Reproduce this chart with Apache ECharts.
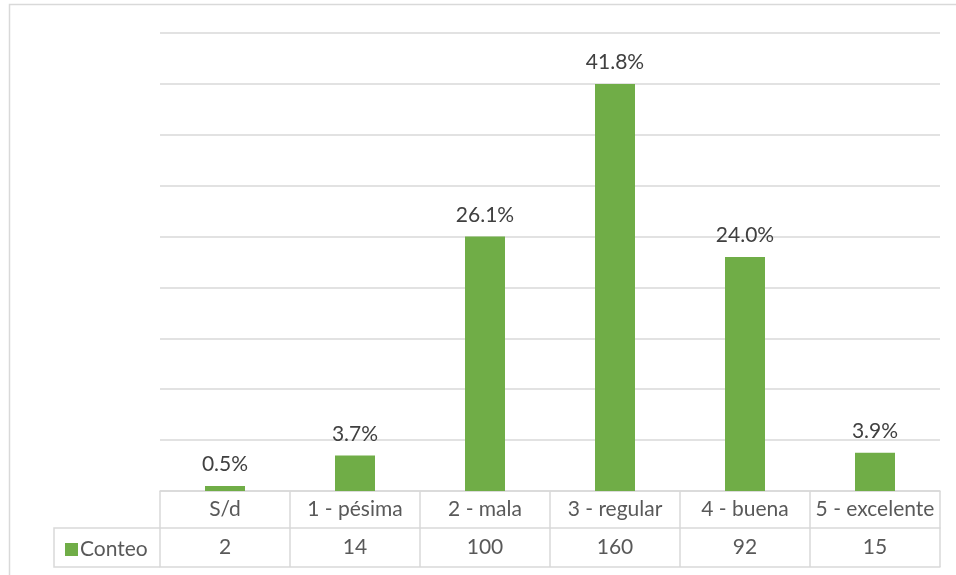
<!DOCTYPE html>
<html><head><meta charset="utf-8">
<script src="https://cdn.jsdelivr.net/npm/echarts@6/dist/echarts.min.js"></script>
<style>html,body{margin:0;padding:0;background:#fff}#c{width:956px;height:575px}</style>
</head><body><div id="c"></div>
<script>
var categories = ['S/d', '1 - pésima', '2 - mala', '3 - regular', '4 - buena', '5 - excelente'];
var counts = [2, 14, 100, 160, 92, 15];
var seriesName = 'Conteo';

var total = counts.reduce(function(a,b){return a+b;},0);
var FONT = 'Lato, "Open Sans", sans-serif';
var TXT = '#595959';
var LINE = '#d9d9d9';
var FS = 21;
var chart = echarts.init(document.getElementById('c'), null, {renderer:'canvas'});
chart.setOption({
  animation:false,
  textStyle:{fontFamily:FONT},
  grid:{left:160, right:16, top:33, bottom:84},
  legend:{
    data:[seriesName], left:60, top:534, icon:'rect', itemWidth:13, itemHeight:13, itemGap:0,
    textStyle:{fontFamily:FONT, fontSize:FS, color:TXT, padding:[0,0,0,-3]}
  },
  xAxis:[
    {type:'category', data:categories, position:'bottom',
     axisLine:{show:true, lineStyle:{color:LINE, width:1.5}},
     axisTick:{show:true, length:76, lineStyle:{color:LINE, width:1.5}},
     axisLabel:{fontFamily:FONT, fontSize:FS, color:TXT, margin:8, interval:0}},
    {type:'category', data:categories, position:'bottom', offset:37,
     axisLine:{show:true, lineStyle:{color:LINE, width:1.5}},
     axisTick:{show:false},
     axisLabel:{fontFamily:FONT, fontSize:FS, color:TXT, margin:9, interval:0,
       formatter:function(v, i){ return String(counts[i]); }}},
    {type:'category', data:categories, position:'bottom', offset:76,
     axisLine:{show:true, lineStyle:{color:LINE, width:1.5}},
     axisTick:{show:false}, axisLabel:{show:false}}
  ],
  yAxis:{type:'value', min:0, max:180, interval:20,
    axisLabel:{show:false}, axisLine:{show:false}, axisTick:{show:false},
    splitLine:{lineStyle:{color:LINE, width:1.5}}},
  series:[{
    name:seriesName, type:'bar', data:counts, barWidth:40,
    itemStyle:{color:'#70ad47'},
    label:{show:true, position:'top', distance:11, fontFamily:FONT, fontSize:FS, color:'#404040',
      formatter:function(p){ return (p.value/total*100).toFixed(1)+'%'; }}
  }],
  graphic:[
    {type:'rect', shape:{x:9.5, y:4.5, width:1000, height:700}, style:{fill:null, stroke:LINE, lineWidth:1.5}, silent:true, z:-10},
    {type:'polyline', shape:{points:[[160,528],[54,528],[54,567],[160,567]]}, style:{fill:null, stroke:LINE, lineWidth:1.5}, silent:true}
  ]
});
</script></body></html>
